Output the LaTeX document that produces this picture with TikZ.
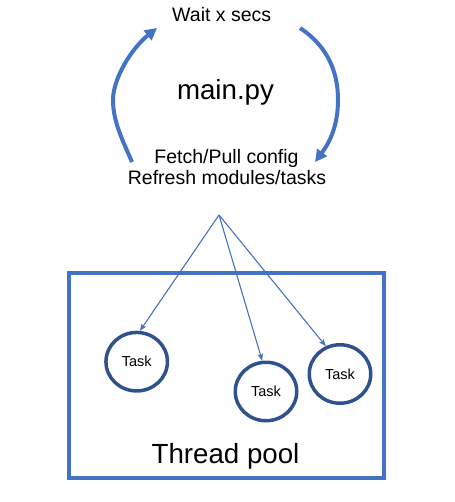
\documentclass[tikz,border=0pt]{standalone}
\usepackage{fontspec}
\setmainfont{Liberation Sans}
\usetikzlibrary{arrows.meta,shapes.geometric}
\definecolor{arcblue}{RGB}{68,114,196}
\definecolor{navy}{RGB}{47,82,143}
\tikzset{
  lbl/.style={inner sep=0pt,anchor=base,font=\fontsize{19.5}{23}\selectfont},
  big/.style={inner sep=0pt,anchor=base,font=\fontsize{27.7}{32}\selectfont},
  task/.style={ellipse,draw=navy,line width=3.5pt,minimum width=61.5pt,minimum height=58.5pt,inner sep=0pt,font=\fontsize{14.5}{17}\selectfont},
  loop/.style={draw=arcblue,line width=4pt,-{Triangle[length=12pt,width=12pt]}},
  spawn/.style={draw=arcblue,line width=1.1pt,-{Stealth[length=7pt,width=5.5pt,inset=1.5pt]}},
  pool/.style={draw=arcblue,line width=4.5pt}
}
\begin{document}
\begin{tikzpicture}[x=1pt,y=-1pt]
\useasboundingbox (0,0) rectangle (454,502);
% texts
\node[lbl] (wait) at (221.7,21.7) {Wait x secs};
\node[big] (main) at (225.5,100) {main.py};
\node[lbl] (fetch) at (226.5,163.3) {Fetch/Pull config};
\node[lbl] (refresh) at (227,185) {Refresh modules/tasks};
% loop arrows
\coordinate (la) at (132,162);
\coordinate (lb) at (157,28);
\coordinate (ra) at (300,28);
\coordinate (rb) at (315,162);
\draw[loop] (la) .. controls (123,141) and (113,122) .. (113,100)
  .. controls (113,78) and (132,48) .. (lb);
\draw[loop] (ra) .. controls (330,48) and (338,75) .. (338,100)
  .. controls (338,125) and (330,142) .. (rb);
% thread pool
\draw[pool] (69,273) rectangle (384,478);
\node[big] (pool) at (225.5,463) {Thread pool};
% tasks
\node[task] (t1) at (136.7,361.7) {Task};
\node[task] (t2) at (266,391.5) {Task};
\node[task] (t3) at (340,374) {Task};
% spawn arrows
\coordinate (o) at (219,215);
\draw[spawn] (o) -- (t1.84);
\draw[spawn] (o) -- (t2.97);
\draw[spawn] (o) -- (t3.117);
\end{tikzpicture}
\end{document}
